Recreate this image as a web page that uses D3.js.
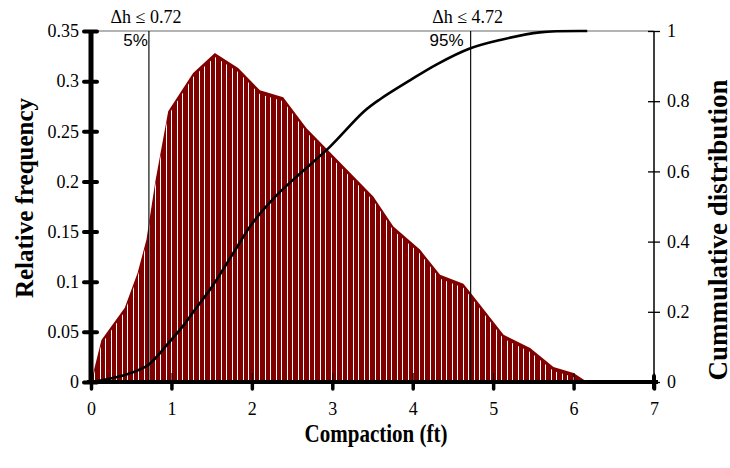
<!DOCTYPE html>
<html><head><meta charset="utf-8">
<script src="https://cdn.jsdelivr.net/npm/d3@7"></script>
<style>body{margin:0;background:#fff}svg{display:block}</style>
</head><body>
<svg id="c" width="730" height="468"></svg>
<script>
// ---- data ----
const freqX = [0,0.13,0.42,0.58,0.69,0.80,0.96,1.27,1.54,1.83,2.10,2.39,2.68,3.51,3.76,4.09,4.34,4.63,4.71,5.13,5.46,5.75,6.00,6.17];
const freqY = [0,0.042,0.074,0.109,0.142,0.20,0.27,0.308,0.328,0.313,0.291,0.284,0.253,0.185,0.155,0.132,0.107,0.098,0.090,0.047,0.034,0.015,0.009,0];
const cumX = [0,0.2,0.42,0.59,0.72,0.96,1.17,1.29,1.5,1.75,2.0,2.3,2.6,2.97,3.39,3.59,3.97,4.3,4.71,5.1,5.58,6.17];
const cumY = [0,0.008,0.02,0.034,0.05,0.11,0.167,0.205,0.27,0.36,0.45,0.53,0.594,0.67,0.77,0.805,0.86,0.905,0.95,0.975,0.996,1.0];
const markerX = [0.72, 4.72];
const markerTop = ["\u0394h \u2264 0.72", "\u0394h \u2264 4.72"];
const markerPct = ["5%", "95%"];
const xTicks = [0,1,2,3,4,5,6,7];
const yLTicks = [0,0.05,0.1,0.15,0.2,0.25,0.3,0.35];
const yRTicks = [0,0.2,0.4,0.6,0.8,1];
const xTitle = "Compaction (ft)";
const yLTitle = "Relative frequency";
const yRTitle = "Cummulative distribution";

const svg = d3.select("#c");
const x = d3.scaleLinear().domain([0,7]).range([91,654]);
const yL = d3.scaleLinear().domain([0,0.35]).range([382,31]);
const yR = d3.scaleLinear().domain([0,1]).range([382,31]);
const RED = "#800000";
const serif = "'Liberation Serif','Times New Roman',serif";
const sans = "'Liberation Sans',Arial,sans-serif";

const defs = svg.append("defs");
const pat = defs.append("pattern").attr("id","stripes").attr("patternUnits","userSpaceOnUse")
  .attr("width",11).attr("height",10);
pat.append("rect").attr("width",11).attr("height",10).attr("fill",RED);
pat.append("rect").attr("x",1).attr("width",1).attr("height",10).attr("fill","#fff");
pat.append("rect").attr("x",6).attr("width",1).attr("height",10).attr("fill","#fff");

const freq = freqX.map((v,i)=>[v,freqY[i]]);
const area = d3.area().x(d=>x(d[0])).y0(yL(0)).y1(d=>yL(d[1]));
defs.append("clipPath").attr("id","areaClip").append("path").attr("d",area(freq));

// top gray frame line
svg.append("line").attr("x1",x(0)).attr("x2",x(7)).attr("y1",yL(0.35)).attr("y2",yL(0.35))
  .attr("stroke","#9a9a9a").attr("stroke-width",1.5);

// frequency area
svg.append("path").attr("d",area(freq)).attr("fill",RED);
svg.append("g").attr("clip-path","url(#areaClip)")
  .append("path").attr("d",area(freq)).attr("transform","translate(0,4)").attr("fill","url(#stripes)");

// marker lines
svg.selectAll(".mk").data(markerX).enter().append("line")
  .attr("x1",d=>x(d)).attr("x2",d=>x(d)).attr("y1",yL(0.35)).attr("y2",yL(0))
  .attr("stroke","#111").attr("stroke-width",1.2);
svg.selectAll(".mkt").data(markerX).enter().append("text")
  .attr("x",d=>x(d)-3).attr("y",23).attr("text-anchor","middle")
  .attr("font-family",serif).attr("font-size",18).text((d,i)=>markerTop[i]);
svg.selectAll(".mkp").data(markerX).enter().append("text")
  .attr("x",(d,i)=>x(d)-(i?7:1)).attr("y",46).attr("text-anchor","end")
  .attr("font-family",sans).attr("font-size",17).text((d,i)=>markerPct[i]);

// cumulative curve
const cum = cumX.map((v,i)=>[v,cumY[i]]);
svg.append("path").attr("d",d3.line().x(d=>x(d[0])).y(d=>yR(d[1])).curve(d3.curveCatmullRom.alpha(0.5))(cum))
  .attr("fill","none").attr("stroke","#000").attr("stroke-width",2.6);

// ---- axes ----
const fmt = d=>String(+d.toFixed(2));
// left
const gL = svg.append("g").attr("transform",`translate(${x(0)},0)`)
  .call(d3.axisLeft(yL).tickValues(yLTicks).tickFormat(fmt).tickSize(0).tickPadding(12));
gL.select(".domain").remove();
gL.selectAll(".tick text").attr("font-family",serif).attr("font-size",18).attr("fill","#000");
gL.append("line").attr("y1",yL(0)).attr("y2",yL(0.35)).attr("stroke","#000").attr("stroke-width",5);
gL.selectAll(".tick").append("line").attr("x1",-7).attr("x2",6)
  .attr("stroke","#000").attr("stroke-width",4).attr("stroke-linecap","round");

// right
const gR = svg.append("g").attr("transform",`translate(${x(7)},0)`)
  .call(d3.axisRight(yR).tickValues(yRTicks).tickFormat(fmt).tickSize(0).tickPadding(13));
gR.select(".domain").remove();
gR.selectAll(".tick text").attr("font-family",serif).attr("font-size",18).attr("fill","#000");
gR.append("line").attr("y1",yR(0)).attr("y2",yR(1)).attr("stroke","#000").attr("stroke-width",1.5);
gR.selectAll(".tick").append("line").attr("x1",-6).attr("x2",6)
  .attr("stroke","#000").attr("stroke-width",1.3);

// bottom
const gB = svg.append("g").attr("transform",`translate(0,${yL(0)})`)
  .call(d3.axisBottom(x).tickValues(xTicks).tickFormat(d3.format("d")).tickSize(0).tickPadding(20));
gB.select(".domain").remove();
gB.selectAll(".tick text").attr("font-family",serif).attr("font-size",18).attr("fill","#000");
gB.append("line").attr("x1",x(0)-4).attr("x2",x(7)+4).attr("stroke","#000").attr("stroke-width",4);
gB.selectAll(".tick").append("line").attr("y1",-9).attr("y2",0).attr("stroke","#000").attr("stroke-width",1);
gB.selectAll(".tick").append("line").attr("y1",1).attr("y2",7)
  .attr("stroke","#000").attr("stroke-width",3.5).attr("stroke-linecap","round");
gB.append("line").attr("x1",x(7)).attr("x2",x(7)).attr("y1",-6).attr("y2",6)
  .attr("stroke","#000").attr("stroke-width",4).attr("stroke-linecap","round");

// titles
svg.append("text").attr("x",376).attr("y",442).attr("text-anchor","middle")
  .attr("font-family",serif).attr("font-weight","bold").attr("font-size",25)
  .attr("textLength",143).attr("lengthAdjust","spacingAndGlyphs").text(xTitle);
svg.append("text").attr("transform","translate(33,198) rotate(-90)").attr("text-anchor","middle")
  .attr("font-family",serif).attr("font-weight","bold").attr("font-size",25).text(yLTitle);
svg.append("text").attr("transform","translate(727,230) rotate(-90)").attr("text-anchor","middle")
  .attr("font-family",serif).attr("font-weight","bold").attr("font-size",27).text(yRTitle);
</script>
</body></html>
